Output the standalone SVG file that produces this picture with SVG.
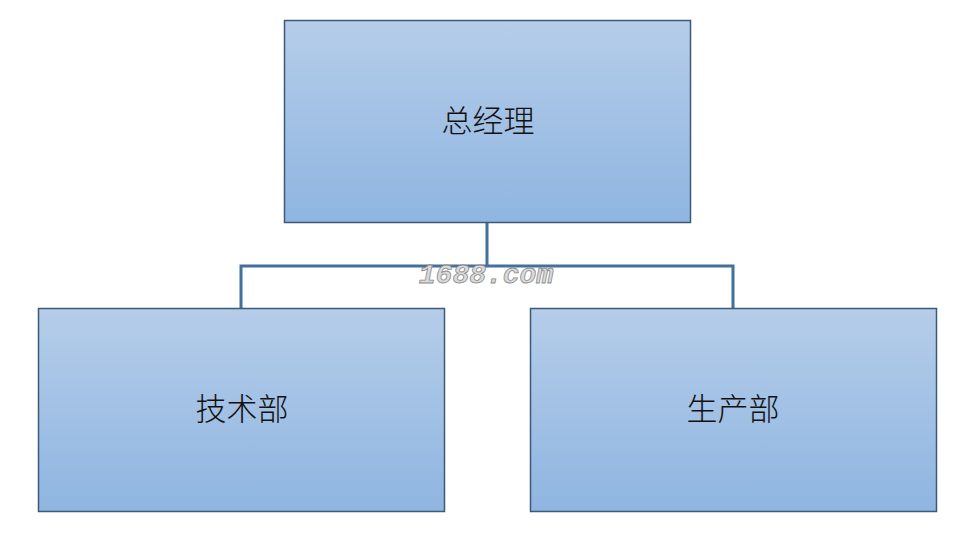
<svg xmlns="http://www.w3.org/2000/svg" width="973" height="543" viewBox="0 0 973 543">
<defs>
<linearGradient id="g" x1="0" y1="0" x2="0" y2="1">
<stop offset="0" stop-color="#b5cde9"/>
<stop offset="1" stop-color="#8fb5e1"/>
</linearGradient>
</defs>
<style>
.box{fill:url(#g);stroke:#3c5a78;stroke-width:1.5}
.lbl{font-family:"Noto Sans CJK SC","Liberation Serif",serif;font-size:31px;fill:#111;text-anchor:middle;font-weight:300}
.conn{fill:none;stroke:#41719c;stroke-width:3}
.wm{font-family:"Liberation Mono",monospace;font-style:italic;font-weight:bold;font-size:28px;fill:#dadada;stroke:#8a8a8a;stroke-width:0.8}
</style>
<rect width="973" height="543" fill="#ffffff"/>
<g id="connectors">
<path class="conn" d="M487,222 V266 M241,308 V266 H733 V308"/>
</g>
<g id="gm">
<rect class="box" x="284.5" y="20.5" width="406" height="202"/>
<text class="lbl" x="488" y="132">总经理</text>
</g>
<g id="tech">
<rect class="box" x="38.5" y="308.5" width="406" height="203"/>
<text class="lbl" x="242" y="420">技术部</text>
</g>
<g id="prod">
<rect class="box" x="530.5" y="308.5" width="406" height="203"/>
<text class="lbl" x="733" y="420">生产部</text>
</g>
<text class="wm" x="486" y="283" text-anchor="middle">1688.com</text>
</svg>
